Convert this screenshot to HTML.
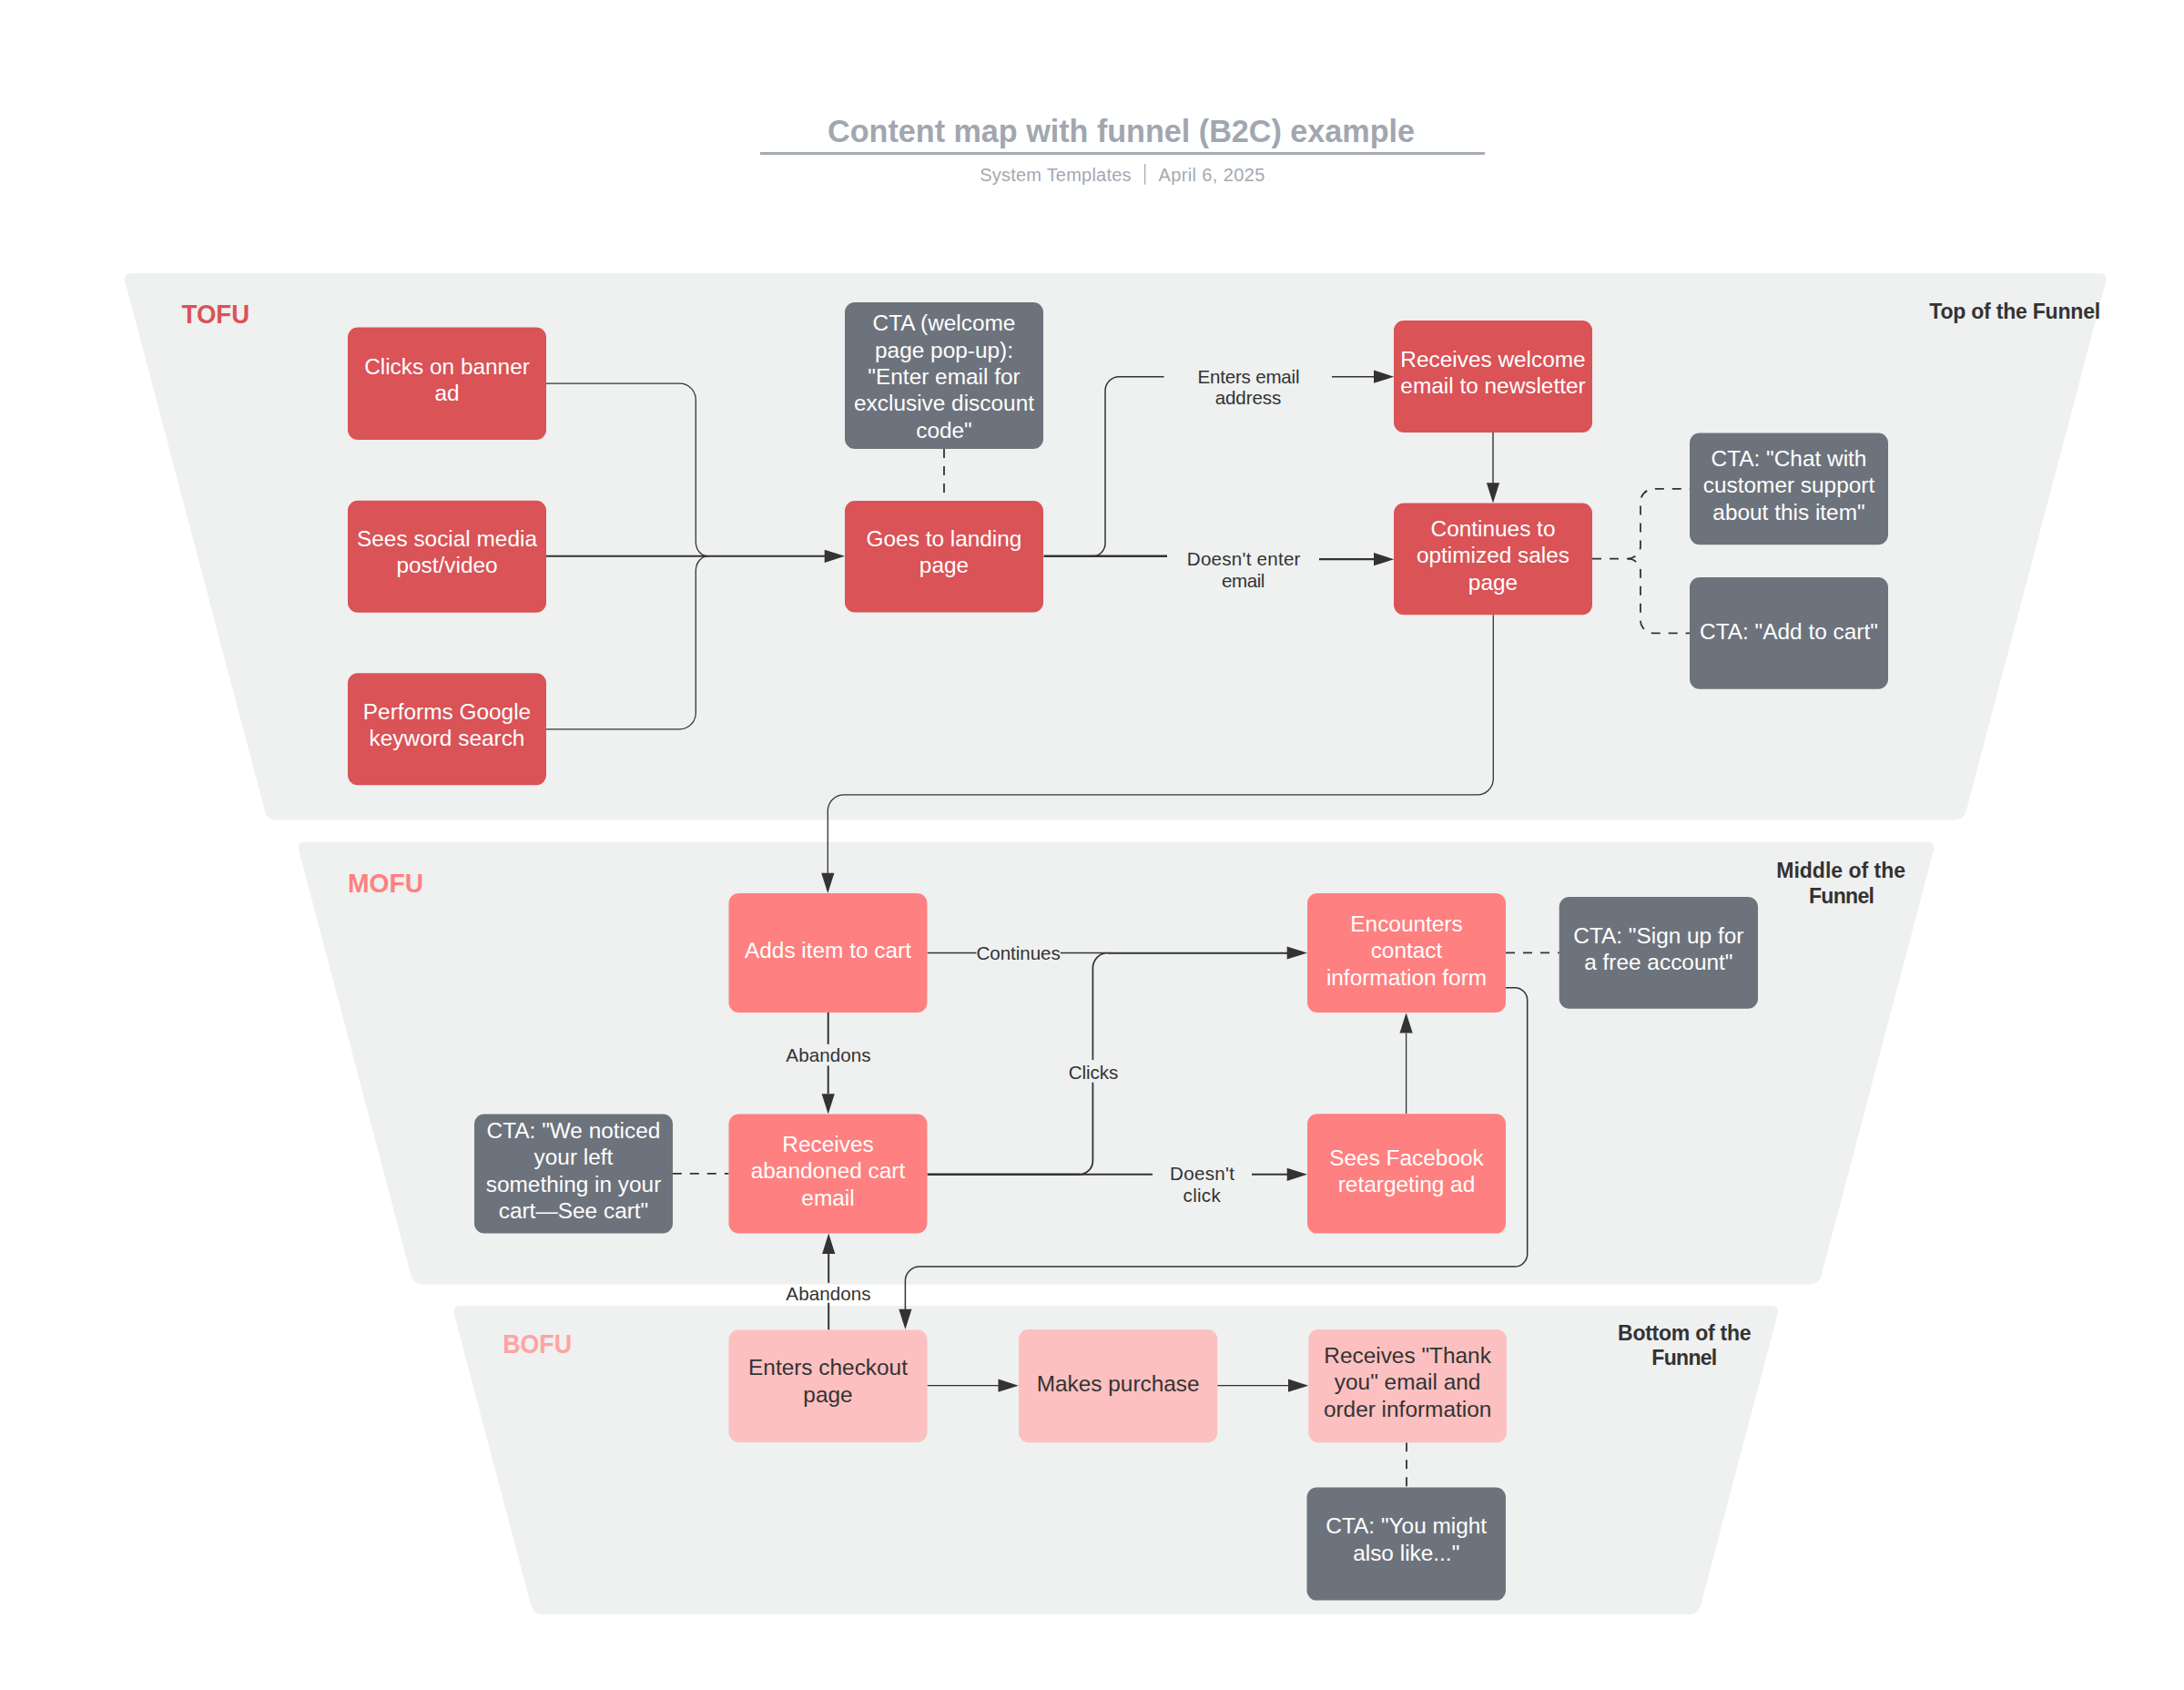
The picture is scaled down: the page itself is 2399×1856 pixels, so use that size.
<!DOCTYPE html>
<html><head><meta charset="utf-8"><title>Content map with funnel (B2C) example</title>
<style>html,body{margin:0;padding:0;background:#fff;}body{width:2399px;height:1856px;overflow:hidden;}svg{display:block;font-family:"Liberation Sans", sans-serif;}</style>
</head><body>
<svg width="2399" height="1856" viewBox="0 0 2399 1856">
<path d="M137.55,309.67 Q135.00,300.00 145.00,300.00 L2305.70,300.00 Q2315.70,300.00 2313.15,309.67 L2159.75,890.83 Q2157.20,900.50 2147.20,900.50 L303.50,900.50 Q293.50,900.50 290.95,890.83 Z" fill="#EFF0F0"/>
<path d="M328.35,934.37 Q325.80,924.70 335.80,924.70 L2116.40,924.70 Q2126.40,924.70 2123.85,934.37 L2000.65,1400.83 Q1998.10,1410.50 1988.10,1410.50 L464.00,1410.50 Q454.00,1410.50 451.45,1400.83 Z" fill="#EFF0F0"/>
<path d="M498.95,1443.67 Q496.40,1434.00 506.40,1434.00 L1945.00,1434.00 Q1955.00,1434.00 1952.45,1443.67 L1868.05,1763.33 Q1865.50,1773.00 1855.50,1773.00 L595.90,1773.00 Q585.90,1773.00 583.35,1763.33 Z" fill="#EFF0F0"/>
<text x="1231.50" y="156.20" fill="#A1A7B0" font-size="34.2" font-weight="bold" text-anchor="middle" textLength="644.96" lengthAdjust="spacing">Content map with funnel (B2C) example</text>
<rect x="835" y="167" width="796" height="3" fill="#A5ABB4"/>
<text x="1159.40" y="198.50" fill="#A3A9B3" font-size="20" text-anchor="middle" textLength="166.22" lengthAdjust="spacing">System Templates</text>
<rect x="1257" y="180" width="1.3" height="22.7" fill="#A3A9B3"/>
<text x="1330.90" y="198.50" fill="#A3A9B3" font-size="20" text-anchor="middle" textLength="116.89" lengthAdjust="spacing">April 6, 2025</text>
<text x="236.80" y="354.80" fill="#D95357" font-size="28.8" font-weight="bold" text-anchor="middle" textLength="74.50" lengthAdjust="spacingAndGlyphs">TOFU</text>
<text x="423.50" y="979.50" fill="#FF8080" font-size="29.2" font-weight="bold" text-anchor="middle" textLength="83.11" lengthAdjust="spacingAndGlyphs">MOFU</text>
<text x="590.10" y="1485.80" fill="#FFA3A3" font-size="29" font-weight="bold" text-anchor="middle" textLength="75.89" lengthAdjust="spacingAndGlyphs">BOFU</text>
<text x="2213.20" y="350.20" fill="#333333" font-size="23" font-weight="bold" text-anchor="middle" textLength="187.85" lengthAdjust="spacing">Top of the Funnel</text>
<text x="2022.15" y="964.30" fill="#333333" font-size="23" font-weight="bold" text-anchor="middle" textLength="141.80" lengthAdjust="spacing">Middle of the</text>
<text x="2022.90" y="991.70" fill="#333333" font-size="23" font-weight="bold" text-anchor="middle" textLength="71.93" lengthAdjust="spacing">Funnel</text>
<text x="1850.30" y="1471.50" fill="#333333" font-size="23" font-weight="bold" text-anchor="middle" textLength="146.56" lengthAdjust="spacing">Bottom of the</text>
<text x="1850.30" y="1498.50" fill="#333333" font-size="23" font-weight="bold" text-anchor="middle" textLength="71.93" lengthAdjust="spacing">Funnel</text>
<path d="M600,421.2 H746.5 A17.8,17.8 0 0 1 764.3,439 V595.2 A13.4,15.6 0 0 0 777.7,610.8" fill="none" stroke="#333333" stroke-width="1.3"/>
<path d="M600,610.8 H906" fill="none" stroke="#333333" stroke-width="2.0"/>
<path d="M600,800.8 H746.5 A17.8,17.8 0 0 0 764.3,783 V626.8 A13.4,16 0 0 1 777.7,610.8" fill="none" stroke="#333333" stroke-width="1.3"/>
<path d="M1200,610.8 A14,14 0 0 0 1214,596.8 V429 A15.3,15.3 0 0 1 1229.3,413.7 H1278.5" fill="none" stroke="#333333" stroke-width="1.5"/>
<path d="M1146.5,610.8 H1201" fill="none" stroke="#333333" stroke-width="2.6"/>
<path d="M1463,413.7 H1509" fill="none" stroke="#333333" stroke-width="1.5"/>
<path d="M1200,610.8 H1282" fill="none" stroke="#333333" stroke-width="2.4"/>
<path d="M1449,614.2 H1509" fill="none" stroke="#333333" stroke-width="2.2"/>
<path d="M1640,475 V531" fill="none" stroke="#333333" stroke-width="1.4"/>
<path d="M1640.3,675.2 V855.3 A17.6,17.6 0 0 1 1622.7,872.9 H927 A17.7,17.7 0 0 0 909.3,890.6 V959" fill="none" stroke="#333333" stroke-width="1.3"/>
<path d="M1018.5,1046.5 H1072.5" fill="none" stroke="#333333" stroke-width="1.6"/>
<path d="M1164.8,1046.5 H1217" fill="none" stroke="#333333" stroke-width="1.6"/>
<path d="M1217,1046.7 H1414" fill="none" stroke="#333333" stroke-width="2.0"/>
<path d="M909.7,1112 V1146.8" fill="none" stroke="#333333" stroke-width="2.0"/>
<path d="M909.7,1170.4 V1201" fill="none" stroke="#333333" stroke-width="2.0"/>
<path d="M1185.3,1289.8 A15.1,15.1 0 0 0 1200.4,1274.7 V1188.7" fill="none" stroke="#333333" stroke-width="1.8"/>
<path d="M1200.4,1164 V1063 A16.5,16.5 0 0 1 1216.9,1046.5" fill="none" stroke="#333333" stroke-width="1.7"/>
<path d="M1018.5,1289.8 H1186" fill="none" stroke="#333333" stroke-width="2.6"/>
<path d="M1186,1289.8 H1266" fill="none" stroke="#333333" stroke-width="2.0"/>
<path d="M1375,1289.8 H1414" fill="none" stroke="#333333" stroke-width="2.0"/>
<path d="M1544.6,1223 V1134.5" fill="none" stroke="#333333" stroke-width="1.3"/>
<path d="M1654,1084.8 H1664 A13.7,13.7 0 0 1 1677.7,1098.5 V1377.1 A14,14 0 0 1 1663.7,1391.1 H1010 A15.6,15.6 0 0 0 994.4,1406.7 V1438.5" fill="none" stroke="#333333" stroke-width="1.5"/>
<path d="M910.2,1460.4 V1430.7" fill="none" stroke="#333333" stroke-width="2.0"/>
<path d="M910.2,1408.9 V1377" fill="none" stroke="#333333" stroke-width="2.0"/>
<path d="M1018.6,1521.7 H1097" fill="none" stroke="#333333" stroke-width="1.3"/>
<path d="M1337.3,1521.7 H1415" fill="none" stroke="#333333" stroke-width="1.3"/>
<path d="M1037,493 V550" fill="none" stroke="#333333" stroke-width="1.8" stroke-dasharray="10 9"/>
<path d="M1749,613.6 H1788 A14,14 0 0 0 1802,599.6 V551.4 A14.5,14.5 0 0 1 1816.5,536.9 H1856" fill="none" stroke="#333333" stroke-width="1.8" stroke-dasharray="10 9"/>
<path d="M1788,613.6 A14,14 0 0 1 1802,627.6 V681 A14.4,14.4 0 0 0 1816.4,695.4 H1856" fill="none" stroke="#333333" stroke-width="1.8" stroke-dasharray="10 9"/>
<path d="M1654,1046.4 H1712.7" fill="none" stroke="#333333" stroke-width="1.8" stroke-dasharray="10 9"/>
<path d="M738.8,1288.8 H800.5" fill="none" stroke="#333333" stroke-width="1.8" stroke-dasharray="10 9"/>
<path d="M1545,1584.3 V1633.6" fill="none" stroke="#333333" stroke-width="1.8" stroke-dasharray="10 9"/>
<polygon points="928.00,610.80 905.70,603.70 905.70,617.90" fill="#333333"/>
<polygon points="1531.30,413.70 1509.00,406.60 1509.00,420.80" fill="#333333"/>
<polygon points="1531.30,614.20 1509.00,607.10 1509.00,621.30" fill="#333333"/>
<polygon points="1640.00,552.50 1632.90,530.20 1647.10,530.20" fill="#333333"/>
<polygon points="909.30,981.00 902.20,958.70 916.40,958.70" fill="#333333"/>
<polygon points="1436.00,1046.50 1413.70,1039.40 1413.70,1053.60" fill="#333333"/>
<polygon points="909.70,1223.50 902.60,1201.20 916.80,1201.20" fill="#333333"/>
<polygon points="1436.00,1289.80 1413.70,1282.70 1413.70,1296.90" fill="#333333"/>
<polygon points="1544.60,1112.30 1537.50,1134.60 1551.70,1134.60" fill="#333333"/>
<polygon points="994.40,1460.00 987.30,1437.70 1001.50,1437.70" fill="#333333"/>
<polygon points="910.20,1354.60 903.10,1376.90 917.30,1376.90" fill="#333333"/>
<polygon points="1118.80,1521.70 1096.50,1514.60 1096.50,1528.80" fill="#333333"/>
<polygon points="1437.30,1521.70 1415.00,1514.60 1415.00,1528.80" fill="#333333"/>
<rect x="382" y="359.5" width="218" height="123.5" rx="11" fill="#D95357"/>
<text x="491.00" y="410.80" fill="#fff" font-size="24.4" text-anchor="middle">Clicks on banner</text>
<text x="491.00" y="440.25" fill="#fff" font-size="24.4" text-anchor="middle">ad</text>
<rect x="382" y="549.7" width="218" height="123" rx="11" fill="#D95357"/>
<text x="491.00" y="600.00" fill="#fff" font-size="24.4" text-anchor="middle">Sees social media</text>
<text x="491.00" y="629.45" fill="#fff" font-size="24.4" text-anchor="middle">post/video</text>
<rect x="382" y="739.3" width="218" height="123" rx="11" fill="#D95357"/>
<text x="491.00" y="789.50" fill="#fff" font-size="24.4" text-anchor="middle">Performs Google</text>
<text x="491.00" y="818.95" fill="#fff" font-size="24.4" text-anchor="middle">keyword search</text>
<rect x="928" y="332" width="218" height="161" rx="11" fill="#6D737C"/>
<text x="1037.00" y="363.10" fill="#fff" font-size="24.4" text-anchor="middle">CTA (welcome</text>
<text x="1037.00" y="392.55" fill="#fff" font-size="24.4" text-anchor="middle">page pop-up):</text>
<text x="1037.00" y="422.00" fill="#fff" font-size="24.4" text-anchor="middle">&quot;Enter email for</text>
<text x="1037.00" y="451.45" fill="#fff" font-size="24.4" text-anchor="middle">exclusive discount</text>
<text x="1037.00" y="480.90" fill="#fff" font-size="24.4" text-anchor="middle">code&quot;</text>
<rect x="928" y="550" width="218" height="122.5" rx="11" fill="#D95357"/>
<text x="1037.00" y="599.80" fill="#fff" font-size="24.4" text-anchor="middle">Goes to landing</text>
<text x="1037.00" y="629.25" fill="#fff" font-size="24.4" text-anchor="middle">page</text>
<rect x="1531" y="352" width="218" height="123" rx="11" fill="#D95357"/>
<text x="1640.00" y="403.00" fill="#fff" font-size="24.4" text-anchor="middle">Receives welcome</text>
<text x="1640.00" y="432.45" fill="#fff" font-size="24.4" text-anchor="middle">email to newsletter</text>
<rect x="1531" y="552.5" width="218" height="122.7" rx="11" fill="#D95357"/>
<text x="1640.00" y="588.90" fill="#fff" font-size="24.4" text-anchor="middle">Continues to</text>
<text x="1640.00" y="618.35" fill="#fff" font-size="24.4" text-anchor="middle">optimized sales</text>
<text x="1640.00" y="647.80" fill="#fff" font-size="24.4" text-anchor="middle">page</text>
<rect x="1856" y="475.5" width="218" height="122.7" rx="11" fill="#6D737C"/>
<text x="1965.00" y="511.90" fill="#fff" font-size="24.4" text-anchor="middle">CTA: &quot;Chat with</text>
<text x="1965.00" y="541.35" fill="#fff" font-size="24.4" text-anchor="middle">customer support</text>
<text x="1965.00" y="570.80" fill="#fff" font-size="24.4" text-anchor="middle">about this item&quot;</text>
<rect x="1856" y="634" width="218" height="122.8" rx="11" fill="#6D737C"/>
<text x="1965.00" y="701.80" fill="#fff" font-size="24.4" text-anchor="middle">CTA: &quot;Add to cart&quot;</text>
<rect x="800.5" y="981" width="218" height="131" rx="11" fill="#FF8080"/>
<text x="909.50" y="1052.00" fill="#fff" font-size="24.4" text-anchor="middle">Adds item to cart</text>
<rect x="1436" y="981" width="218" height="131" rx="11" fill="#FF8080"/>
<text x="1545.00" y="1022.60" fill="#fff" font-size="24.4" text-anchor="middle">Encounters</text>
<text x="1545.00" y="1052.05" fill="#fff" font-size="24.4" text-anchor="middle">contact</text>
<text x="1545.00" y="1081.50" fill="#fff" font-size="24.4" text-anchor="middle">information form</text>
<rect x="1712.7" y="985" width="218.3" height="122.7" rx="11" fill="#6D737C"/>
<text x="1821.85" y="1035.80" fill="#fff" font-size="24.4" text-anchor="middle">CTA: &quot;Sign up for</text>
<text x="1821.85" y="1065.25" fill="#fff" font-size="24.4" text-anchor="middle">a free account&quot;</text>
<rect x="521" y="1223.5" width="218" height="131" rx="11" fill="#6D737C"/>
<text x="630.00" y="1249.60" fill="#fff" font-size="24.4" text-anchor="middle">CTA: &quot;We noticed</text>
<text x="630.00" y="1279.05" fill="#fff" font-size="24.4" text-anchor="middle">your left</text>
<text x="630.00" y="1308.50" fill="#fff" font-size="24.4" text-anchor="middle">something in your</text>
<text x="630.00" y="1337.95" fill="#fff" font-size="24.4" text-anchor="middle">cart—See cart&quot;</text>
<rect x="800.5" y="1223.5" width="218" height="131" rx="11" fill="#FF8080"/>
<text x="909.50" y="1264.60" fill="#fff" font-size="24.4" text-anchor="middle">Receives</text>
<text x="909.50" y="1294.05" fill="#fff" font-size="24.4" text-anchor="middle">abandoned cart</text>
<text x="909.50" y="1323.50" fill="#fff" font-size="24.4" text-anchor="middle">email</text>
<rect x="1436" y="1223.3" width="218" height="131.3" rx="11" fill="#FF8080"/>
<text x="1545.00" y="1279.80" fill="#fff" font-size="24.4" text-anchor="middle">Sees Facebook</text>
<text x="1545.00" y="1309.25" fill="#fff" font-size="24.4" text-anchor="middle">retargeting ad</text>
<rect x="800.5" y="1460.4" width="218" height="123.6" rx="11" fill="#FCC0C0"/>
<text x="909.50" y="1510.30" fill="#333333" font-size="24.4" text-anchor="middle">Enters checkout</text>
<text x="909.50" y="1539.75" fill="#333333" font-size="24.4" text-anchor="middle">page</text>
<rect x="1119" y="1460" width="218.3" height="124.3" rx="11" fill="#FCC0C0"/>
<text x="1228.15" y="1528.00" fill="#333333" font-size="24.4" text-anchor="middle">Makes purchase</text>
<rect x="1437.3" y="1460" width="217.6" height="124.3" rx="11" fill="#FCC0C0"/>
<text x="1546.10" y="1497.00" fill="#333333" font-size="24.4" text-anchor="middle">Receives &quot;Thank</text>
<text x="1546.10" y="1526.45" fill="#333333" font-size="24.4" text-anchor="middle">you&quot; email and</text>
<text x="1546.10" y="1555.90" fill="#333333" font-size="24.4" text-anchor="middle">order information</text>
<rect x="1435.5" y="1633.6" width="218.5" height="124" rx="11" fill="#6D737C"/>
<text x="1544.75" y="1684.30" fill="#fff" font-size="24.4" text-anchor="middle">CTA: &quot;You might</text>
<text x="1544.75" y="1713.75" fill="#fff" font-size="24.4" text-anchor="middle">also like...&quot;</text>
<text x="1371.45" y="421.00" fill="#333333" font-size="20.6" text-anchor="middle" textLength="112.05" lengthAdjust="spacing">Enters email</text>
<text x="1370.95" y="444.40" fill="#333333" font-size="20.6" text-anchor="middle" textLength="72.65" lengthAdjust="spacing">address</text>
<text x="1366.15" y="621.00" fill="#333333" font-size="20.6" text-anchor="middle" textLength="124.62" lengthAdjust="spacing">Doesn&#39;t enter</text>
<text x="1365.65" y="645.00" fill="#333333" font-size="20.6" text-anchor="middle" textLength="47.49" lengthAdjust="spacing">email</text>
<text x="1118.65" y="1053.70" fill="#333333" font-size="20.6" text-anchor="middle" textLength="92.35" lengthAdjust="spacing">Continues</text>
<text x="1201.00" y="1184.60" fill="#333333" font-size="20.6" text-anchor="middle" textLength="54.53" lengthAdjust="spacing">Clicks</text>
<text x="909.95" y="1165.90" fill="#333333" font-size="20.6" text-anchor="middle" textLength="93.17" lengthAdjust="spacing">Abandons</text>
<text x="909.95" y="1427.90" fill="#333333" font-size="20.6" text-anchor="middle" textLength="93.17" lengthAdjust="spacing">Abandons</text>
<text x="1320.45" y="1295.80" fill="#333333" font-size="20.6" text-anchor="middle" textLength="70.88" lengthAdjust="spacing">Doesn&#39;t</text>
<text x="1320.15" y="1320.00" fill="#333333" font-size="20.6" text-anchor="middle" textLength="41.18" lengthAdjust="spacing">click</text>
</svg>
</body></html>
